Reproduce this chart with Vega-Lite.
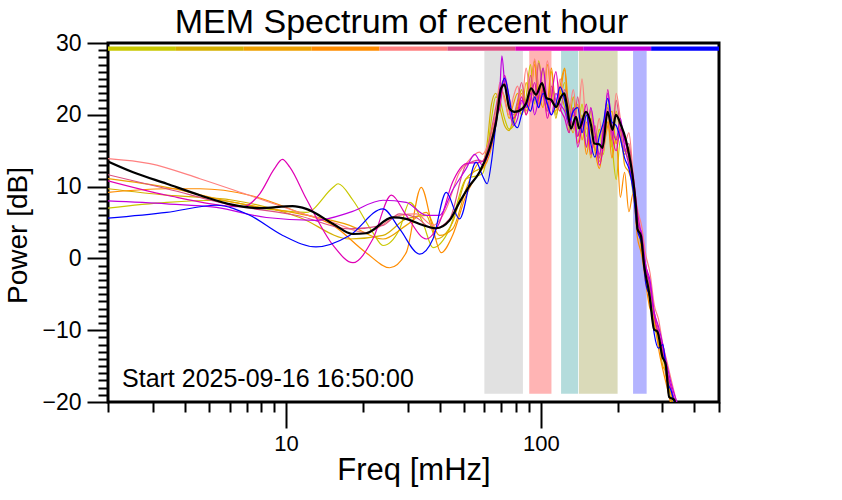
{
"$schema":"https://vega.github.io/schema/vega-lite/v6.json",
"width":611,"height":359,
"autosize":{"type":"none"},
"padding":{"left":108,"top":43,"right":123,"bottom":98},
"background":"white",
"config":{"view":{"stroke":"black","strokeWidth":3},"font":"Liberation Sans"},
"title":{"text":"MEM Spectrum of recent hour","fontSize":34,"fontWeight":"normal","color":"black","font":"Liberation Sans","anchor":"middle","dx":-12,"dy":13,"offset":5},
"datasets":{
"bands":[{"band":"b1","f1":60,"f2":85},{"band":"b2","f1":90,"f2":110},{"band":"b3","f1":120,"f2":140},{"band":"b4","f1":141,"f2":200},{"band":"b5","f1":230,"f2":260}],
"bar":[{"s":"1","f1":2,"f2":3.694},{"s":"2","f1":3.694,"f2":6.822},{"s":"3","f1":6.822,"f2":12.6},{"s":"4","f1":12.6,"f2":23.27},{"s":"5","f1":23.27,"f2":42.98},{"s":"6","f1":42.98,"f2":79.38},{"s":"7","f1":79.38,"f2":146.6},{"s":"8","f1":146.6,"f2":270.8},{"s":"9","f1":270.8,"f2":500}],
"note":[{"f":2.27,"p":-17.9,"t":"Start 2025-09-16 16:50:00"}],
"mean":[{"f":2,"p":13.5},{"f":2.51,"p":12.0},{"f":3.4,"p":10.4},{"f":4.59,"p":8.8},{"f":6.19,"p":7.45},{"f":7.88,"p":7.0},{"f":10.6,"p":7.27},{"f":12.0,"p":6.9},{"f":15.3,"p":4.8},{"f":18.3,"p":3.4},{"f":20.6,"p":3.5},{"f":26.2,"p":5.7},{"f":29.6,"p":5.5},{"f":33.4,"p":4.8},{"f":38.8,"p":4.2},{"f":43.8,"p":5.3},{"f":47.9,"p":7.8},{"f":52.2,"p":10.0},{"f":57.4,"p":12.0},{"f":62.8,"p":15.3},{"f":66.7,"p":19.0},{"f":69.8,"p":23.7},{"f":71.9,"p":24.2},{"f":75.2,"p":20.9},{"f":78.7,"p":20.4},{"f":84.8,"p":20.9},{"f":87.5,"p":21.6},{"f":91.5,"p":23.7},{"f":95.7,"p":22.8},{"f":101,"p":24.4},{"f":105.3,"p":22.3},{"f":109.6,"p":22.1},{"f":114.6,"p":21.1},{"f":119.9,"p":22.5},{"f":123.5,"p":23.0},{"f":126.1,"p":21.6},{"f":131.2,"p":18.1},{"f":137.3,"p":19.7},{"f":141.4,"p":18.1},{"f":150.2,"p":20.4},{"f":157.2,"p":18.6},{"f":161.9,"p":16.0},{"f":169.4,"p":15.9},{"f":174.5,"p":15.4},{"f":182.6,"p":20.4},{"f":191,"p":17.9},{"f":197,"p":20.0},{"f":206,"p":18.6},{"f":215.6,"p":16.5},{"f":222,"p":14.4},{"f":228.8,"p":11.6},{"f":235.9,"p":7.35},{"f":239.4,"p":4.1},{"f":246.8,"p":3.2},{"f":254.2,"p":-1.0},{"f":266,"p":-4.8},{"f":278.2,"p":-9.9},{"f":286.6,"p":-10.2},{"f":299.8,"p":-13.7},{"f":309.2,"p":-14.8},{"f":318.6,"p":-19.3},{"f":333.4,"p":-19.7},{"f":345,"p":-22}],
"lines":[
{"s":"1","f":2,"p":7.0},{"s":"1","f":3.4,"p":7.8},{"s":"1","f":5.33,"p":8.1},{"s":"1","f":8.37,"p":6.9},{"s":"1","f":12,"p":6.4},{"s":"1","f":15.3,"p":9.9},{"s":"1","f":16,"p":10.4},{"s":"1","f":18.3,"p":8.1},{"s":"1","f":21.9,"p":3.6},{"s":"1","f":24,"p":1.8},{"s":"1","f":27.9,"p":4.1},{"s":"1","f":30.5,"p":7.8},{"s":"1","f":34.4,"p":5.0},{"s":"1","f":37.7,"p":1.5},{"s":"1","f":43.8,"p":4.1},{"s":"1","f":50.9,"p":11.1},{"s":"1","f":57.4,"p":11.6},
{"s":"1","f":59,"p":11.8},{"s":"1","f":61.5,"p":14.5},{"s":"1","f":64,"p":19.5},{"s":"1","f":66.5,"p":22.5},{"s":"1","f":69,"p":22.0},{"s":"1","f":72,"p":19.5},{"s":"1","f":75,"p":18.0},{"s":"1","f":78,"p":18.5},{"s":"1","f":81,"p":21.0},{"s":"1","f":84,"p":20.0},{"s":"1","f":87.5,"p":22.5},{"s":"1","f":91,"p":27.0},{"s":"1","f":94.5,"p":21.5},{"s":"1","f":98,"p":27.5},{"s":"1","f":102,"p":23.0},{"s":"1","f":106,"p":20.5},{"s":"1","f":110,"p":26.0},{"s":"1","f":114.5,"p":20.0},{"s":"1","f":119,"p":22.0},{"s":"1","f":124,"p":24.5},{"s":"1","f":129,"p":17.5},{"s":"1","f":134,"p":21.0},{"s":"1","f":139.5,"p":18.0},{"s":"1","f":145,"p":21.5},{"s":"1","f":151,"p":17.0},{"s":"1","f":157,"p":20.5},{"s":"1","f":163,"p":15.0},{"s":"1","f":169.5,"p":18.0},{"s":"1","f":176,"p":14.5},{"s":"1","f":183,"p":21.5},{"s":"1","f":190,"p":16.0},{"s":"1","f":197.5,"p":11.0},{"s":"1","f":205,"p":16.5},{"s":"1","f":213,"p":15.0},{"s":"1","f":221.5,"p":13.5},{"s":"1","f":230,"p":9.0},{"s":"1","f":239,"p":5.5},{"s":"1","f":248.5,"p":1.5},{"s":"1","f":258,"p":-1.0},{"s":"1","f":268,"p":-4.5},{"s":"1","f":278.5,"p":-9.0},{"s":"1","f":289.5,"p":-12.0},{"s":"1","f":301,"p":-13.0},{"s":"1","f":313,"p":-17.0},{"s":"1","f":325,"p":-19.0},{"s":"1","f":338,"p":-21.0},{"s":"1","f":350,"p":-23},
{"s":"2","f":2,"p":9.7},{"s":"2","f":3.4,"p":8.8},{"s":"2","f":6.2,"p":8.1},{"s":"2","f":11.3,"p":5.7},{"s":"2","f":17.75,"p":2.7},{"s":"2","f":24,"p":3.2},{"s":"2","f":29.6,"p":5.5},{"s":"2","f":35.5,"p":6.0},{"s":"2","f":38.8,"p":2.7},{"s":"2","f":45,"p":5.0},{"s":"2","f":50.9,"p":11.1},{"s":"2","f":57.4,"p":12.5},
{"s":"2","f":59,"p":12.8},{"s":"2","f":61.5,"p":16.0},{"s":"2","f":64,"p":21.5},{"s":"2","f":66.5,"p":23.0},{"s":"2","f":69,"p":21.0},{"s":"2","f":72,"p":18.5},{"s":"2","f":75,"p":17.8},{"s":"2","f":78,"p":19.5},{"s":"2","f":81,"p":21.5},{"s":"2","f":84,"p":23.5},{"s":"2","f":87.5,"p":20.5},{"s":"2","f":91,"p":24.0},{"s":"2","f":94.5,"p":27.5},{"s":"2","f":98,"p":22.0},{"s":"2","f":102,"p":26.5},{"s":"2","f":106,"p":21.0},{"s":"2","f":110,"p":23.5},{"s":"2","f":114.5,"p":19.5},{"s":"2","f":119,"p":23.0},{"s":"2","f":124,"p":21.0},{"s":"2","f":129,"p":19.0},{"s":"2","f":134,"p":22.5},{"s":"2","f":139.5,"p":17.0},{"s":"2","f":145,"p":20.0},{"s":"2","f":151,"p":15.5},{"s":"2","f":157,"p":19.5},{"s":"2","f":163,"p":17.0},{"s":"2","f":169.5,"p":14.0},{"s":"2","f":176,"p":18.5},{"s":"2","f":183,"p":19.0},{"s":"2","f":190,"p":15.5},{"s":"2","f":197.5,"p":20.5},{"s":"2","f":205,"p":17.0},{"s":"2","f":213,"p":14.5},{"s":"2","f":221.5,"p":15.5},{"s":"2","f":230,"p":10.5},{"s":"2","f":239,"p":4.0},{"s":"2","f":248.5,"p":3.5},{"s":"2","f":258,"p":-3.0},{"s":"2","f":268,"p":-4.0},{"s":"2","f":278.5,"p":-8.5},{"s":"2","f":289.5,"p":-11.0},{"s":"2","f":301,"p":-15.0},{"s":"2","f":313,"p":-16.0},{"s":"2","f":325,"p":-20.0},{"s":"2","f":338,"p":-20.5},{"s":"2","f":350,"p":-23},
{"s":"3","f":2,"p":11.1},{"s":"3","f":3.4,"p":9.9},{"s":"3","f":6.2,"p":7.8},{"s":"3","f":11.3,"p":6.2},{"s":"3","f":17.75,"p":4.6},{"s":"3","f":24,"p":2.7},{"s":"3","f":29.6,"p":4.6},{"s":"3","f":35.5,"p":6.4},{"s":"3","f":40,"p":3.2},{"s":"3","f":45,"p":4.1},{"s":"3","f":50.9,"p":9.7},{"s":"3","f":57.4,"p":13.4},
{"s":"3","f":59,"p":13.5},{"s":"3","f":61.5,"p":15.0},{"s":"3","f":64,"p":17.5},{"s":"3","f":66.5,"p":20.0},{"s":"3","f":69,"p":23.5},{"s":"3","f":72,"p":22.5},{"s":"3","f":75,"p":19.5},{"s":"3","f":78,"p":21.5},{"s":"3","f":81,"p":23.0},{"s":"3","f":84,"p":20.0},{"s":"3","f":87.5,"p":24.5},{"s":"3","f":91,"p":22.0},{"s":"3","f":94.5,"p":27.5},{"s":"3","f":98,"p":23.5},{"s":"3","f":102,"p":21.0},{"s":"3","f":106,"p":27.0},{"s":"3","f":110,"p":22.5},{"s":"3","f":114.5,"p":20.5},{"s":"3","f":119,"p":24.0},{"s":"3","f":124,"p":26.5},{"s":"3","f":129,"p":20.0},{"s":"3","f":134,"p":17.5},{"s":"3","f":139.5,"p":21.5},{"s":"3","f":145,"p":16.5},{"s":"3","f":151,"p":19.0},{"s":"3","f":157,"p":14.0},{"s":"3","f":163,"p":17.5},{"s":"3","f":169.5,"p":13.5},{"s":"3","f":176,"p":15.5},{"s":"3","f":183,"p":18.5},{"s":"3","f":190,"p":20.5},{"s":"3","f":197.5,"p":16.0},{"s":"3","f":205,"p":18.0},{"s":"3","f":213,"p":13.0},{"s":"3","f":221.5,"p":12.0},{"s":"3","f":230,"p":10.0},{"s":"3","f":239,"p":5.5},{"s":"3","f":248.5,"p":1.0},{"s":"3","f":258,"p":-2.5},{"s":"3","f":268,"p":-6.0},{"s":"3","f":278.5,"p":-9.0},{"s":"3","f":289.5,"p":-10.5},{"s":"3","f":301,"p":-13.5},{"s":"3","f":313,"p":-17.5},{"s":"3","f":325,"p":-19.0},{"s":"3","f":338,"p":-21.5},{"s":"3","f":350,"p":-23},
{"s":"4","f":2,"p":9.2},{"s":"4","f":3.4,"p":9.7},{"s":"4","f":4.59,"p":9.7},{"s":"4","f":7.2,"p":8.8},{"s":"4","f":11.3,"p":6.4},{"s":"4","f":15.3,"p":4.6},{"s":"4","f":20.6,"p":0.8},{"s":"4","f":25.5,"p":-1.3},{"s":"4","f":29.6,"p":0.8},{"s":"4","f":33.9,"p":9.9},{"s":"4","f":37.7,"p":4.1},{"s":"4","f":40.6,"p":0.8},{"s":"4","f":45,"p":3.2},{"s":"4","f":50.9,"p":8.8},{"s":"4","f":57.4,"p":12.0},
{"s":"4","f":59,"p":12.5},{"s":"4","f":61.5,"p":13.5},{"s":"4","f":64,"p":15.5},{"s":"4","f":66.5,"p":18.5},{"s":"4","f":69,"p":22.0},{"s":"4","f":72,"p":24.5},{"s":"4","f":75,"p":20.5},{"s":"4","f":78,"p":19.0},{"s":"4","f":81,"p":21.0},{"s":"4","f":84,"p":23.0},{"s":"4","f":87.5,"p":20.0},{"s":"4","f":91,"p":23.0},{"s":"4","f":94.5,"p":27.0},{"s":"4","f":98,"p":21.5},{"s":"4","f":102,"p":24.0},{"s":"4","f":106,"p":22.0},{"s":"4","f":110,"p":26.5},{"s":"4","f":114.5,"p":21.0},{"s":"4","f":119,"p":23.0},{"s":"4","f":124,"p":26.3},{"s":"4","f":129,"p":18.5},{"s":"4","f":134,"p":20.0},{"s":"4","f":139.5,"p":16.0},{"s":"4","f":145,"p":19.0},{"s":"4","f":151,"p":14.5},{"s":"4","f":157,"p":18.0},{"s":"4","f":163,"p":15.0},{"s":"4","f":169.5,"p":12.5},{"s":"4","f":176,"p":16.0},{"s":"4","f":183,"p":19.0},{"s":"4","f":190,"p":14.0},{"s":"4","f":197.5,"p":17.0},{"s":"4","f":205,"p":8.5},{"s":"4","f":213,"p":12.0},{"s":"4","f":221.5,"p":6.5},{"s":"4","f":230,"p":9.0},{"s":"4","f":239,"p":3.0},{"s":"4","f":248.5,"p":0.5},{"s":"4","f":258,"p":-3.5},{"s":"4","f":268,"p":-7.0},{"s":"4","f":278.5,"p":-8.0},{"s":"4","f":289.5,"p":-12.5},{"s":"4","f":301,"p":-15.5},{"s":"4","f":313,"p":-18.0},{"s":"4","f":325,"p":-20.5},{"s":"4","f":338,"p":-22.0},{"s":"4","f":350,"p":-24},
{"s":"5","f":2,"p":13.9},{"s":"5","f":2.92,"p":13.2},{"s":"5","f":4.59,"p":11.1},{"s":"5","f":7.2,"p":8.76},{"s":"5","f":11.3,"p":6.4},{"s":"5","f":15.3,"p":5.0},{"s":"5","f":20.6,"p":3.6},{"s":"5","f":27.9,"p":6.0},{"s":"5","f":32.4,"p":6.2},{"s":"5","f":37.7,"p":4.6},{"s":"5","f":42.5,"p":6.9},{"s":"5","f":47.9,"p":12.0},{"s":"5","f":50.9,"p":13.2},{"s":"5","f":57.4,"p":14.8},
{"s":"5","f":59,"p":14.5},{"s":"5","f":61.5,"p":15.5},{"s":"5","f":64,"p":17.0},{"s":"5","f":66.5,"p":20.0},{"s":"5","f":69,"p":24.5},{"s":"5","f":72,"p":22.0},{"s":"5","f":75,"p":20.0},{"s":"5","f":78,"p":22.5},{"s":"5","f":81,"p":24.0},{"s":"5","f":84,"p":21.5},{"s":"5","f":87.5,"p":26.5},{"s":"5","f":91,"p":23.0},{"s":"5","f":94.5,"p":27.8},{"s":"5","f":98,"p":24.0},{"s":"5","f":102,"p":22.5},{"s":"5","f":106,"p":27.5},{"s":"5","f":110,"p":23.5},{"s":"5","f":114.5,"p":21.5},{"s":"5","f":119,"p":25.0},{"s":"5","f":124,"p":22.0},{"s":"5","f":129,"p":20.5},{"s":"5","f":134,"p":23.5},{"s":"5","f":139.5,"p":19.0},{"s":"5","f":145,"p":25.0},{"s":"5","f":151,"p":18.0},{"s":"5","f":157,"p":21.0},{"s":"5","f":163,"p":16.5},{"s":"5","f":169.5,"p":19.5},{"s":"5","f":176,"p":15.0},{"s":"5","f":183,"p":20.0},{"s":"5","f":190,"p":17.0},{"s":"5","f":197.5,"p":23.0},{"s":"5","f":205,"p":19.5},{"s":"5","f":213,"p":16.0},{"s":"5","f":221.5,"p":17.5},{"s":"5","f":230,"p":12.0},{"s":"5","f":239,"p":7.0},{"s":"5","f":248.5,"p":4.5},{"s":"5","f":258,"p":0.5},{"s":"5","f":268,"p":-2.0},{"s":"5","f":278.5,"p":-6.5},{"s":"5","f":289.5,"p":-8.5},{"s":"5","f":301,"p":-12.0},{"s":"5","f":313,"p":-14.5},{"s":"5","f":325,"p":-17.0},{"s":"5","f":338,"p":-19.5},{"s":"5","f":350,"p":-22},
{"s":"6","f":2,"p":11.65},{"s":"6","f":3.4,"p":9.7},{"s":"6","f":6.2,"p":7.4},{"s":"6","f":11.3,"p":5.9},{"s":"6","f":17.75,"p":4.1},{"s":"6","f":24,"p":4.6},{"s":"6","f":27.9,"p":6.2},{"s":"6","f":32.4,"p":5.7},{"s":"6","f":37.7,"p":4.1},{"s":"6","f":43.8,"p":5.5},{"s":"6","f":50.9,"p":13.0},{"s":"6","f":57.4,"p":13.7},
{"s":"6","f":59,"p":13.5},{"s":"6","f":61.5,"p":15.0},{"s":"6","f":64,"p":18.0},{"s":"6","f":66.5,"p":21.0},{"s":"6","f":69,"p":23.5},{"s":"6","f":72,"p":25.0},{"s":"6","f":75,"p":21.5},{"s":"6","f":78,"p":20.0},{"s":"6","f":81,"p":22.0},{"s":"6","f":84,"p":24.5},{"s":"6","f":87.5,"p":21.0},{"s":"6","f":91,"p":25.5},{"s":"6","f":94.5,"p":22.0},{"s":"6","f":98,"p":27.2},{"s":"6","f":102,"p":23.0},{"s":"6","f":106,"p":20.5},{"s":"6","f":110,"p":24.0},{"s":"6","f":114.5,"p":22.0},{"s":"6","f":119,"p":20.5},{"s":"6","f":124,"p":23.5},{"s":"6","f":129,"p":21.5},{"s":"6","f":134,"p":18.0},{"s":"6","f":139.5,"p":22.5},{"s":"6","f":145,"p":17.5},{"s":"6","f":151,"p":20.5},{"s":"6","f":157,"p":16.0},{"s":"6","f":163,"p":18.5},{"s":"6","f":169.5,"p":14.0},{"s":"6","f":176,"p":17.5},{"s":"6","f":183,"p":21.0},{"s":"6","f":190,"p":16.5},{"s":"6","f":197.5,"p":22.0},{"s":"6","f":205,"p":18.0},{"s":"6","f":213,"p":15.0},{"s":"6","f":221.5,"p":16.0},{"s":"6","f":230,"p":11.0},{"s":"6","f":239,"p":6.0},{"s":"6","f":248.5,"p":2.0},{"s":"6","f":258,"p":-1.0},{"s":"6","f":268,"p":-4.0},{"s":"6","f":278.5,"p":-7.5},{"s":"6","f":289.5,"p":-10.0},{"s":"6","f":301,"p":-13.0},{"s":"6","f":313,"p":-15.5},{"s":"6","f":325,"p":-18.5},{"s":"6","f":338,"p":-20.0},{"s":"6","f":350,"p":-22},
{"s":"7","f":2,"p":10.8},{"s":"7","f":3.4,"p":8.8},{"s":"7","f":6.8,"p":7.2},{"s":"7","f":7.88,"p":9.0},{"s":"7","f":9.0,"p":12.5},{"s":"7","f":9.67,"p":13.8},{"s":"7","f":10.34,"p":12.7},{"s":"7","f":12,"p":8.3},{"s":"7","f":15.3,"p":1.8},{"s":"7","f":18.3,"p":-0.6},{"s":"7","f":21.9,"p":2.7},{"s":"7","f":25.9,"p":8.8},{"s":"7","f":29.6,"p":6.0},{"s":"7","f":35.5,"p":2.7},{"s":"7","f":40,"p":5.0},{"s":"7","f":45,"p":10.6},{"s":"7","f":50.9,"p":13.2},{"s":"7","f":57.4,"p":13.4},
{"s":"7","f":59,"p":13.5},{"s":"7","f":61.5,"p":14.5},{"s":"7","f":64,"p":16.0},{"s":"7","f":66.5,"p":19.5},{"s":"7","f":69,"p":21.0},{"s":"7","f":72,"p":25.5},{"s":"7","f":75,"p":22.5},{"s":"7","f":78,"p":19.5},{"s":"7","f":81,"p":20.5},{"s":"7","f":84,"p":22.5},{"s":"7","f":87.5,"p":20.0},{"s":"7","f":91,"p":22.0},{"s":"7","f":94.5,"p":24.5},{"s":"7","f":98,"p":21.0},{"s":"7","f":102,"p":23.5},{"s":"7","f":106,"p":19.5},{"s":"7","f":110,"p":22.5},{"s":"7","f":114.5,"p":26.0},{"s":"7","f":119,"p":21.0},{"s":"7","f":124,"p":19.5},{"s":"7","f":129,"p":17.5},{"s":"7","f":134,"p":21.0},{"s":"7","f":139.5,"p":15.5},{"s":"7","f":145,"p":18.5},{"s":"7","f":151,"p":21.5},{"s":"7","f":157,"p":14.5},{"s":"7","f":163,"p":17.0},{"s":"7","f":169.5,"p":13.0},{"s":"7","f":176,"p":16.0},{"s":"7","f":183,"p":23.5},{"s":"7","f":190,"p":17.5},{"s":"7","f":197.5,"p":15.0},{"s":"7","f":205,"p":18.0},{"s":"7","f":213,"p":16.5},{"s":"7","f":221.5,"p":14.0},{"s":"7","f":230,"p":11.5},{"s":"7","f":239,"p":6.5},{"s":"7","f":248.5,"p":3.0},{"s":"7","f":258,"p":-1.5},{"s":"7","f":268,"p":-3.5},{"s":"7","f":278.5,"p":-8.0},{"s":"7","f":289.5,"p":-10.5},{"s":"7","f":301,"p":-12.5},{"s":"7","f":313,"p":-16.0},{"s":"7","f":325,"p":-18.0},{"s":"7","f":338,"p":-20.5},{"s":"7","f":350,"p":-22},
{"s":"8","f":2,"p":8.0},{"s":"8","f":3.4,"p":7.6},{"s":"8","f":5.33,"p":7.1},{"s":"8","f":8.37,"p":5.7},{"s":"8","f":13.1,"p":5.3},{"s":"8","f":17.75,"p":6.4},{"s":"8","f":24,"p":8.1},{"s":"8","f":29.6,"p":7.8},{"s":"8","f":35.5,"p":6.0},{"s":"8","f":40,"p":6.0},{"s":"8","f":45,"p":9.5},{"s":"8","f":50.9,"p":12.5},{"s":"8","f":55,"p":14.5},
{"s":"8","f":59,"p":13.0},{"s":"8","f":61.5,"p":14.0},{"s":"8","f":64,"p":16.0},{"s":"8","f":66.5,"p":19.0},{"s":"8","f":69,"p":23.5},{"s":"8","f":70.3,"p":28.2},{"s":"8","f":72,"p":24.5},{"s":"8","f":75,"p":21.0},{"s":"8","f":78,"p":18.5},{"s":"8","f":81,"p":19.5},{"s":"8","f":84,"p":22.0},{"s":"8","f":87.5,"p":21.0},{"s":"8","f":91,"p":23.0},{"s":"8","f":94.5,"p":20.0},{"s":"8","f":98,"p":22.5},{"s":"8","f":102,"p":26.5},{"s":"8","f":106,"p":21.5},{"s":"8","f":110,"p":20.0},{"s":"8","f":114.5,"p":23.0},{"s":"8","f":119,"p":21.5},{"s":"8","f":124,"p":20.5},{"s":"8","f":129,"p":18.5},{"s":"8","f":134,"p":20.5},{"s":"8","f":139.5,"p":17.0},{"s":"8","f":145,"p":19.5},{"s":"8","f":151,"p":15.5},{"s":"8","f":157,"p":21.0},{"s":"8","f":163,"p":17.5},{"s":"8","f":169.5,"p":14.5},{"s":"8","f":176,"p":18.0},{"s":"8","f":183,"p":23.0},{"s":"8","f":190,"p":18.5},{"s":"8","f":197.5,"p":16.5},{"s":"8","f":205,"p":19.5},{"s":"8","f":213,"p":15.5},{"s":"8","f":221.5,"p":13.0},{"s":"8","f":230,"p":10.0},{"s":"8","f":239,"p":5.0},{"s":"8","f":248.5,"p":3.5},{"s":"8","f":258,"p":-1.0},{"s":"8","f":268,"p":-3.0},{"s":"8","f":278.5,"p":-7.5},{"s":"8","f":289.5,"p":-9.5},{"s":"8","f":301,"p":-12.0},{"s":"8","f":313,"p":-15.0},{"s":"8","f":325,"p":-17.5},{"s":"8","f":338,"p":-19.5},{"s":"8","f":350,"p":-21},
{"s":"9","f":2,"p":5.6},{"s":"9","f":3.4,"p":6.4},{"s":"9","f":5.33,"p":7.4},{"s":"9","f":7.2,"p":6.0},{"s":"9","f":9.7,"p":3.2},{"s":"9","f":13.1,"p":1.6},{"s":"9","f":17.75,"p":3.2},{"s":"9","f":24,"p":6.9},{"s":"9","f":27.9,"p":4.1},{"s":"9","f":33.4,"p":0.6},{"s":"9","f":37.7,"p":2.7},{"s":"9","f":42.5,"p":9.2},{"s":"9","f":47.9,"p":5.5},{"s":"9","f":55.7,"p":13.4},
{"s":"9","f":59,"p":11.5},{"s":"9","f":61.5,"p":10.4},{"s":"9","f":64,"p":13.5},{"s":"9","f":66.5,"p":18.5},{"s":"9","f":69,"p":22.5},{"s":"9","f":72,"p":25.1},{"s":"9","f":75,"p":22.5},{"s":"9","f":78,"p":19.0},{"s":"9","f":81,"p":18.2},{"s":"9","f":84,"p":20.0},{"s":"9","f":87.5,"p":21.5},{"s":"9","f":91,"p":20.5},{"s":"9","f":94.5,"p":22.5},{"s":"9","f":98,"p":21.0},{"s":"9","f":102,"p":23.0},{"s":"9","f":106,"p":21.5},{"s":"9","f":110,"p":20.0},{"s":"9","f":114.5,"p":21.5},{"s":"9","f":119,"p":23.9},{"s":"9","f":124,"p":22.0},{"s":"9","f":129,"p":19.0},{"s":"9","f":134,"p":20.5},{"s":"9","f":139.5,"p":21.0},{"s":"9","f":145,"p":17.5},{"s":"9","f":151,"p":20.0},{"s":"9","f":157,"p":16.0},{"s":"9","f":163,"p":14.1},{"s":"9","f":169.5,"p":17.0},{"s":"9","f":176,"p":19.0},{"s":"9","f":183,"p":22.3},{"s":"9","f":190,"p":19.0},{"s":"9","f":197.5,"p":18.5},{"s":"9","f":205,"p":16.7},{"s":"9","f":213,"p":14.0},{"s":"9","f":221.5,"p":12.5},{"s":"9","f":230,"p":9.5},{"s":"9","f":239,"p":4.0},{"s":"9","f":248.5,"p":2.0},{"s":"9","f":258,"p":-3.5},{"s":"9","f":268,"p":-5.5},{"s":"9","f":278.5,"p":-10.5},{"s":"9","f":289.5,"p":-12.5},{"s":"9","f":301,"p":-12.0},{"s":"9","f":313,"p":-17.0},{"s":"9","f":325,"p":-18.5},{"s":"9","f":338,"p":-21},{"s":"9","f":350,"p":-23}
]},
"layer":[
{"data":{"name":"bands"},"mark":{"type":"rect"},
 "encoding":{
  "x":{"field":"f1","type":"quantitative","scale":{"type":"log","domain":[2,500],"nice":false},
   "axis":{"title":"Freq [mHz]","values":[2,3,4,5,6,7,8,9,10,20,30,40,50,60,70,80,90,100,200,300,400,500],"tickCount":100,"domain":false,"grid":false,"tickColor":"black","tickWidth":2,"tickSize":26,
    "tickDash":{"condition":{"test":"datum.value == 10 || datum.value == 100","value":[100,1]},"value":[10,60]},
    "labelExpr":"datum.value == 10 || datum.value == 100 ? format(datum.value, 'd') : ''",
    "labelFontSize":22,"labelFont":"Liberation Sans","labelColor":"black","labelPadding":5,"labelOverlap":false,"labelFlush":false,"labelBound":false,
    "titleFontSize":31,"titleFont":"Liberation Sans","titleFontWeight":"normal","titleColor":"black","titleBaseline":"alphabetic","titleY":77}},
  "x2":{"field":"f2"},
  "y":{"datum":-18.85,"type":"quantitative","scale":{"domain":[-20,30],"nice":false,"zero":false},
   "axis":{"title":"Power [dB]","values":[-20,-19,-18,-17,-16,-15,-14,-13,-12,-11,-10,-9,-8,-7,-6,-5,-4,-3,-2,-1,0,1,2,3,4,5,6,7,8,9,10,11,12,13,14,15,16,17,18,19,20,21,22,23,24,25,26,27,28,29,30],"tickCount":100,"domain":false,"grid":false,"tickColor":"black","tickWidth":2,"tickSize":21,
    "tickDash":{"condition":{"test":"datum.value % 10 == 0","value":[100,1]},"value":[10,60]},
    "labelExpr":"datum.value % 10 == 0 ? format(datum.value, 'd') : ''",
    "labelFontSize":23,"labelFont":"Liberation Sans","labelColor":"black","labelPadding":6,"labelOverlap":false,"labelFlush":false,"labelBound":false,
    "titleFontSize":28,"titleFont":"Liberation Sans","titleFontWeight":"normal","titleColor":"black","titleBaseline":"alphabetic","titleX":-82,"titleY":192}},
  "y2":{"datum":28.88},
  "fill":{"field":"band","type":"nominal","scale":{"domain":["b1","b2","b3","b4","b5"],"range":["#e1e1e1","#ffb4b4","#b4dcdc","#dadab9","#b4b4ff"]},"legend":null}}},
{"data":{"name":"bar"},"mark":{"type":"rect"},
 "encoding":{
  "x":{"field":"f1","type":"quantitative","scale":{"type":"log","domain":[2,500],"nice":false}},
  "x2":{"field":"f2"},
  "y":{"datum":28.93,"type":"quantitative","scale":{"domain":[-20,30],"nice":false,"zero":false}},
  "y2":{"datum":29.5},
  "color":{"field":"s","type":"nominal","scale":{"domain":["1","2","3","4","5","6","7","8","9"],"range":["#c8c800","#d5b000","#eea000","#ff8c00","#ff8080","#dc5082","#e000b4","#bf00e0","#0000ff"]},"legend":null}}},
{"data":{"name":"lines"},"mark":{"type":"line","interpolate":"monotone","strokeWidth":1.2,"clip":true},
 "encoding":{
  "x":{"field":"f","type":"quantitative","scale":{"type":"log","domain":[2,500],"nice":false}},
  "y":{"field":"p","type":"quantitative","scale":{"domain":[-20,30],"nice":false,"zero":false}},
  "color":{"field":"s","type":"nominal","scale":{"domain":["1","2","3","4","5","6","7","8","9"],"range":["#c8c800","#d5b000","#eea000","#ff8c00","#ff8080","#dc5082","#e000b4","#bf00e0","#0000ff"]},"legend":null}}},
{"data":{"name":"mean"},"mark":{"type":"line","interpolate":"monotone","strokeWidth":2.2,"color":"black","clip":true},
 "encoding":{
  "x":{"field":"f","type":"quantitative","scale":{"type":"log","domain":[2,500],"nice":false}},
  "y":{"field":"p","type":"quantitative","scale":{"domain":[-20,30],"nice":false,"zero":false}}}},
{"data":{"name":"note"},"mark":{"type":"text","align":"left","baseline":"alphabetic","fontSize":25,"font":"Liberation Sans","color":"black"},
 "encoding":{
  "x":{"field":"f","type":"quantitative","scale":{"type":"log","domain":[2,500],"nice":false}},
  "y":{"field":"p","type":"quantitative","scale":{"domain":[-20,30],"nice":false,"zero":false}},
  "text":{"field":"t"}}}
]
}
